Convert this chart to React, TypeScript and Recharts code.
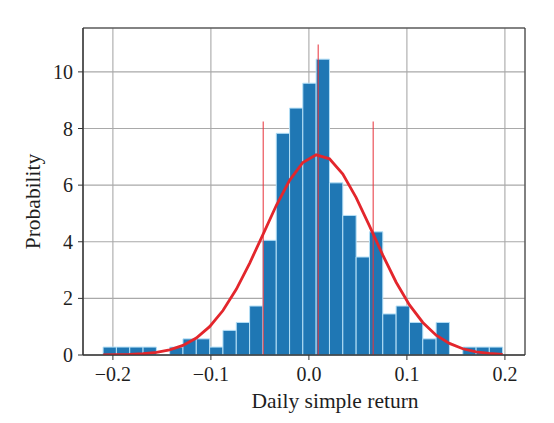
import {
    ComposedChart,
    Line,
    XAxis,
    YAxis,
    CartesianGrid,
    ReferenceArea,
    ReferenceLine,
    Label,
} from 'recharts';

// histogram bin edges (30 bins)
const binEdges = [
    -0.21, -0.1964, -0.1828, -0.1692, -0.1556, -0.1421, -0.1285, -0.1149,
    -0.1013, -0.0877, -0.0741, -0.0605, -0.0469, -0.0333, -0.0197, -0.0062,
    0.0074, 0.021, 0.0346, 0.0482, 0.0618, 0.0754, 0.089, 0.1026, 0.1162,
    0.1298, 0.1434, 0.157, 0.1706, 0.1841, 0.1977,
];

// density of each bin
const binDensity = [
    0.28, 0.28, 0.28, 0.28, 0, 0.28, 0.57, 0.57, 0.28, 0.87, 1.15, 1.73,
    4.05, 7.83, 8.72, 9.6, 10.45, 6.08, 4.93, 3.46, 4.35, 1.45, 1.73, 1.15,
    0.57, 1.15, 0, 0.28, 0.28, 0.28,
];

// fitted normal curve, read at the bin edges
const curveDensity = [
    0.003, 0.008, 0.02, 0.044, 0.09, 0.18, 0.34, 0.6, 1.0, 1.57, 2.32, 3.24,
    4.25, 5.28, 6.17, 6.8, 7.07, 6.93, 6.39, 5.56, 4.56, 3.53, 2.57, 1.77,
    1.15, 0.7, 0.41, 0.22, 0.11, 0.055, 0.025,
];

// mean - std, mean, mean + std markers
const markerReturns = [-0.0466, 0.0095, 0.0656];
const markerHeights = [8.25, 10.97, 8.25];

const xTicks = [-0.2, -0.1, 0, 0.1, 0.2];
const yTicks = [0, 2, 4, 6, 8, 10];
const xDomain = [-0.2305, 0.2205];
const yDomain = [0, 11.55];

const curveData = binEdges.map((x, i) => ({ x, pdf: curveDensity[i] }));

const font = '"Liberation Serif", "Times New Roman", serif';

const fmtX = (v: number) => {
    if (v === 0) return '0.0';
    return v < 0 ? '\u2212' + Math.abs(v).toFixed(1) : v.toFixed(1);
};

// tick renderers so the serif font is applied for sure
const XTick = (props: any) => {
    const { x, y, payload } = props;
    return (
        <text x={x} y={y} dy={15} textAnchor="middle" fontFamily={font} fontSize={20} fill="#1e1e1e">
            {fmtX(payload.value)}
        </text>
    );
};

const YTick = (props: any) => {
    const { x, y, payload } = props;
    return (
        <text x={x} y={y} dy={7} textAnchor="end" fontFamily={font} fontSize={20} fill="#1e1e1e">
            {payload.value}
        </text>
    );
};

export default function App() {
    return (
        <div style={{ position: 'absolute', left: 0, top: 0, background: '#fff' }}>
            <ComposedChart
                width={554}
                height={423}
                data={curveData}
                margin={{ top: 28, right: 29, bottom: 0, left: 0 }}
            >
                <CartesianGrid stroke="#a9a9a9" strokeWidth={1.1} />
                <XAxis
                    dataKey="x"
                    type="number"
                    domain={xDomain}
                    ticks={xTicks}
                    allowDataOverflow
                    height={68}
                    tickSize={5}
                    tickMargin={6}
                    stroke="#333"
                    tick={<XTick />}
                >
                    <Label
                        content={() => (
                            <text
                                x={335}
                                y={408}
                                textAnchor="middle"
                                fontFamily={font}
                                fontSize={21.5}
                                fill="#1e1e1e"
                            >
                                Daily simple return
                            </text>
                        )}
                    />
                </XAxis>
                <YAxis
                    type="number"
                    domain={yDomain}
                    ticks={yTicks}
                    allowDataOverflow
                    width={83}
                    tickSize={5}
                    tickMargin={5}
                    stroke="#333"
                    tick={<YTick />}
                >
                    <Label
                        content={() => (
                            <text
                                x={40}
                                y={201.5}
                                transform="rotate(-90, 40, 201.5)"
                                textAnchor="middle"
                                fontFamily={font}
                                fontSize={21.5}
                                fill="#1e1e1e"
                            >
                                Probability
                            </text>
                        )}
                    />
                </YAxis>
                {binDensity.map((h, i) =>
                    h > 0 ? (
                        <ReferenceArea
                            key={i}
                            x1={binEdges[i]}
                            x2={binEdges[i + 1]}
                            y1={0}
                            y2={h}
                            fill="#1f77b4"
                            fillOpacity={1}
                            stroke="#b5e0f7"
                            strokeWidth={1}
                        />
                    ) : null
                )}
                <ReferenceArea
                    x1={xDomain[0]}
                    x2={xDomain[1]}
                    y1={yDomain[0]}
                    y2={yDomain[1]}
                    fill="none"
                    stroke="#333"
                    strokeWidth={1}
                />
                {markerReturns.map((x, i) => (
                    <ReferenceLine
                        key={'m' + i}
                        segment={[
                            { x, y: 0 },
                            { x, y: markerHeights[i] },
                        ]}
                        stroke="#e8343c"
                        strokeOpacity={0.85}
                        strokeWidth={1.2}
                    />
                ))}
                <Line
                    dataKey="pdf"
                    type="linear"
                    stroke="#e3262c"
                    strokeWidth={2.8}
                    dot={false}
                    isAnimationActive={false}
                />
            </ComposedChart>
        </div>
    );
}
